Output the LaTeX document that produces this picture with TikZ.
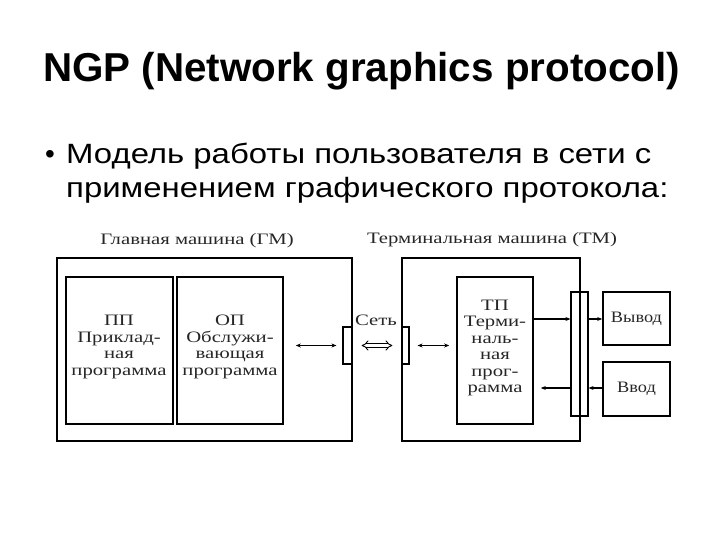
\documentclass[tikz,border=0pt]{standalone}
\usepackage{fontspec}
\setmainfont{Liberation Sans}
\newfontfamily\bulletfont[FakeStretch=1.18]{Liberation Sans}
\newfontfamily\diagfont[FakeStretch=1.3]{Liberation Serif}
\newfontfamily\diagfontb[FakeStretch=1.15]{Liberation Serif}
\usetikzlibrary{arrows.meta}
\tikzset{
  box/.style={draw, line width=1.6bp, inner sep=0pt},
  thinbox/.style={draw, line width=1.2bp, inner sep=0pt},
  lbl/.style={font=\diagfont\fontsize{16}{16.5}\selectfont, align=center, inner sep=0pt, text=black!85},
  lblb/.style={font=\diagfontb\fontsize{16}{16.5}\selectfont, align=center, inner sep=0pt, text=black!85},
  btext/.style={anchor=base west, inner sep=0pt, font=\bulletfont\fontsize{28}{34}\selectfont},
  arr/.style={line width=1.2bp, -{Stealth[length=5bp,width=4bp]}},
  darr/.style={line width=1.2bp, {Stealth[length=5bp,width=4bp]}-{Stealth[length=5bp,width=4bp]}},
  netarr/.style={double, double distance=2.6bp, line width=0.9bp, {Implies[length=4bp]}-{Implies[length=4bp]}},
}
\begin{document}
\begin{tikzpicture}[x=1bp,y=-1bp]
\useasboundingbox (0,0) rectangle (720,540);
% title and bullet
\node[anchor=base west, inner sep=0pt, font=\fontsize{40.5}{48}\bfseries\selectfont] (title) at (43,82) {NGP (Network graphics protocol)};
\node[anchor=base west, inner sep=0pt, font=\fontsize{28}{34}\selectfont] (bul) at (45,164) {•};
\node[btext] (l1) at (66,164) {Модель работы пользователя в сети с};
\node[btext] (l2) at (66,198) {применением графического протокола:};
% machine labels
\node[lbl] (gmlabel) at (197,241) {Главная машина (ГМ)};
\node[lbl] (tmlabel) at (492,240) {Терминальная машина (ТМ)};
% main machine
\node[box, minimum width=295bp, minimum height=183bp] (gm) at (204.5,349.5) {};
\node[box, minimum width=107bp, minimum height=147bp] (pp) at (119.5,350.5) {};
\node[box, minimum width=106bp, minimum height=147bp] (op) at (230,350.5) {};
\node[lbl] (pptext) at (119,347) {ПП\\Приклад-\\ная\\программа};
\node[lbl] (optext) at (230,347) {ОП\\Обслужи-\\вающая\\программа};
\node[thinbox, minimum width=9bp, minimum height=37bp] (gmport) at (347.5,345.5) {};
% terminal machine
\node[box, minimum width=178bp, minimum height=183bp] (tm) at (491,349.5) {};
\node[thinbox, minimum width=7bp, minimum height=37bp] (tmport) at (405.5,345.5) {};
\node[box, minimum width=76bp, minimum height=147bp] (tp) at (495,350.5) {};
\node[lbl] (tptext) at (495,348) {ТП\\Терми-\\наль-\\ная\\прог-\\рамма};
\node[thinbox, minimum width=17bp, minimum height=124bp] (bar) at (579.5,354) {};
\draw[line width=1.6bp] (580,258) -- (580,441);
\node[box, minimum width=67bp, minimum height=53bp] (out) at (636.5,318.5) {};
\node[lblb] at (out) {Вывод};
\node[box, minimum width=67bp, minimum height=54bp] (in) at (636.5,389) {};
\node[lblb] at (in) {Ввод};
% network
\node[lbl] (net) at (376,320) {Сеть};
\coordinate (yo) at (0,319);
\coordinate (yi) at (0,388);
% connectors
\draw[darr, shorten <=12bp, shorten >=6bp] (op.east |- gmport.west) -- (gmport.west);
\draw[netarr, shorten <=9bp, shorten >=9bp] (gmport.east) -- (tmport.west);
\draw[darr, shorten <=8bp, shorten >=7bp] (tmport.east) -- (tp.west |- tmport.east);
\draw[arr] (tp.east |- yo) -- (bar.west |- yo);
\draw[arr] (bar.east |- yo) -- (out.west |- yo);
\draw[arr] (in.west |- yi) -- (bar.east |- yi);
\draw[arr, shorten >=7bp] (bar.west |- yi) -- (tp.east |- yi);
\end{tikzpicture}
\end{document}
